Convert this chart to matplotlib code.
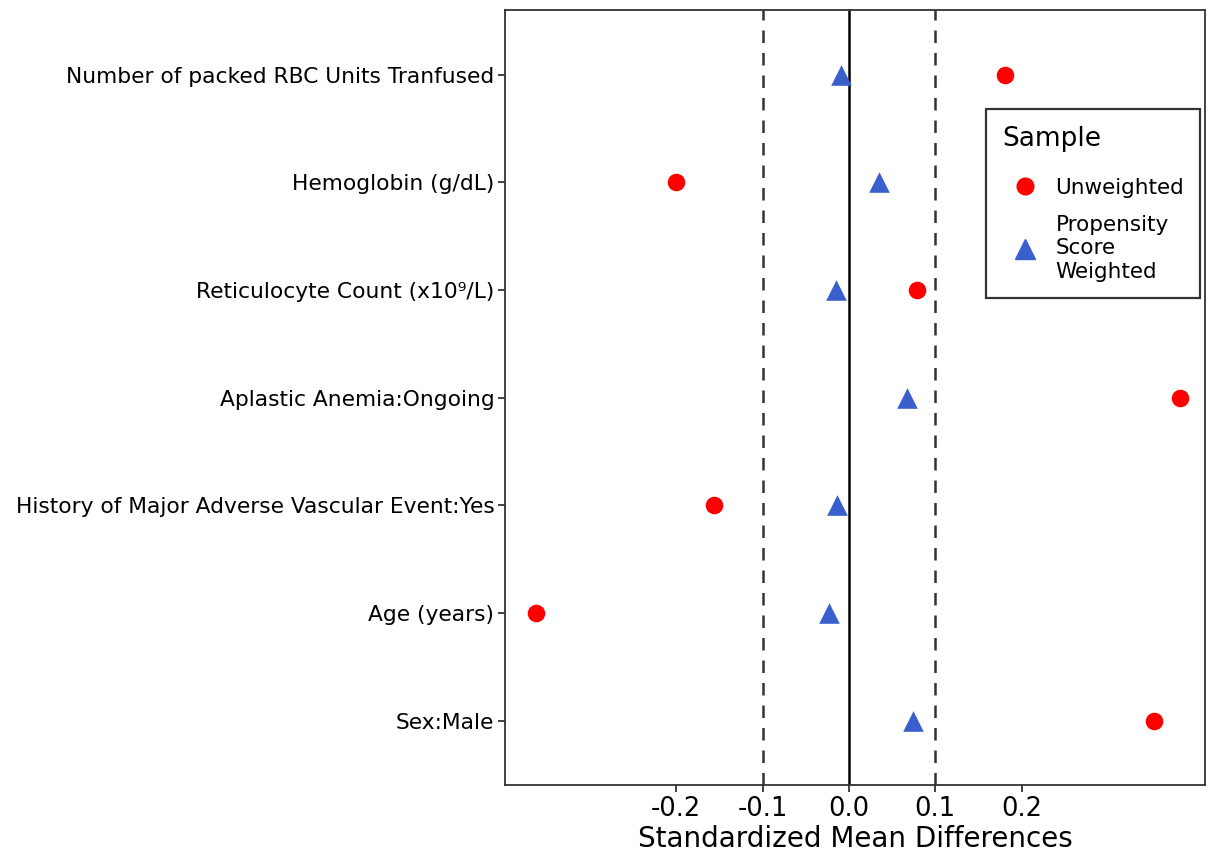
import matplotlib.pyplot as plt
from matplotlib.lines import Line2D

covariates = [
    "Number of packed RBC Units Tranfused",
    "Hemoglobin (g/dL)",
    "Reticulocyte Count (x10\u2079/L)",
    "Aplastic Anemia:Ongoing",
    "History of Major Adverse Vascular Event:Yes",
    "Age (years)",
    "Sex:Male",
]
unweighted = [0.181, -0.200, 0.079, 0.384, -0.156, -0.362, 0.354]
weighted = [-0.009, 0.035, -0.015, 0.067, -0.014, -0.023, 0.074]
xticks = [-0.2, -0.1, 0.0, 0.1, 0.2]

fig = plt.figure(figsize=(12.09, 8.59), dpi=100)
ax = fig.add_axes([0.418, 0.086, 0.579, 0.902])

ypos = list(range(len(covariates)))

ax.axvline(0, color="black", lw=1.8, zorder=1)
ax.axvline(-0.1, color="#333333", lw=1.8, ls=(0, (5, 4)), zorder=1)
ax.axvline(0.1, color="#333333", lw=1.8, ls=(0, (5, 4)), zorder=1)

ax.scatter(unweighted, ypos, s=160, marker="o", color="#ff0000", zorder=3,
           linewidths=0)
ax.scatter(weighted, ypos, s=220, marker="^", color="#3a5fcd", zorder=3,
           linewidths=0)

ax.set_ylim(len(covariates) - 0.4, -0.6)
ax.set_xlim(-0.398, 0.413)
ax.set_yticks(ypos)
ax.set_yticklabels(covariates, fontsize=15.7)
ax.set_xticks(xticks)
ax.set_xticklabels([f"{t:.1f}" for t in xticks], fontsize=18.5)
ax.set_xlabel("Standardized Mean Differences", fontsize=20, labelpad=2)
ax.tick_params(axis="both", length=5, width=1.3, color="#333333", pad=3)
for sp in ax.spines.values():
    sp.set_color("#333333")
    sp.set_linewidth(1.3)

handles = [
    Line2D([], [], marker="o", ls="", color="#ff0000", markersize=12),
    Line2D([], [], marker="^", ls="", color="#3a5fcd", markersize=14),
]
leg = ax.legend(handles, ["Unweighted", "Propensity\nScore\nWeighted"],
                title="Sample", loc="upper right", bbox_to_anchor=(0.993, 0.872),
                borderaxespad=0, fontsize=15.5, title_fontsize=19, frameon=True,
                fancybox=False, edgecolor="black", handletextpad=0.3,
                borderpad=0.75, labelspacing=0.8, handlelength=2.2)
leg.get_frame().set_linewidth(1.6)
leg._legend_box.align = "left"
leg._legend_box.sep = 19

fig.savefig("out.png", dpi=100)
